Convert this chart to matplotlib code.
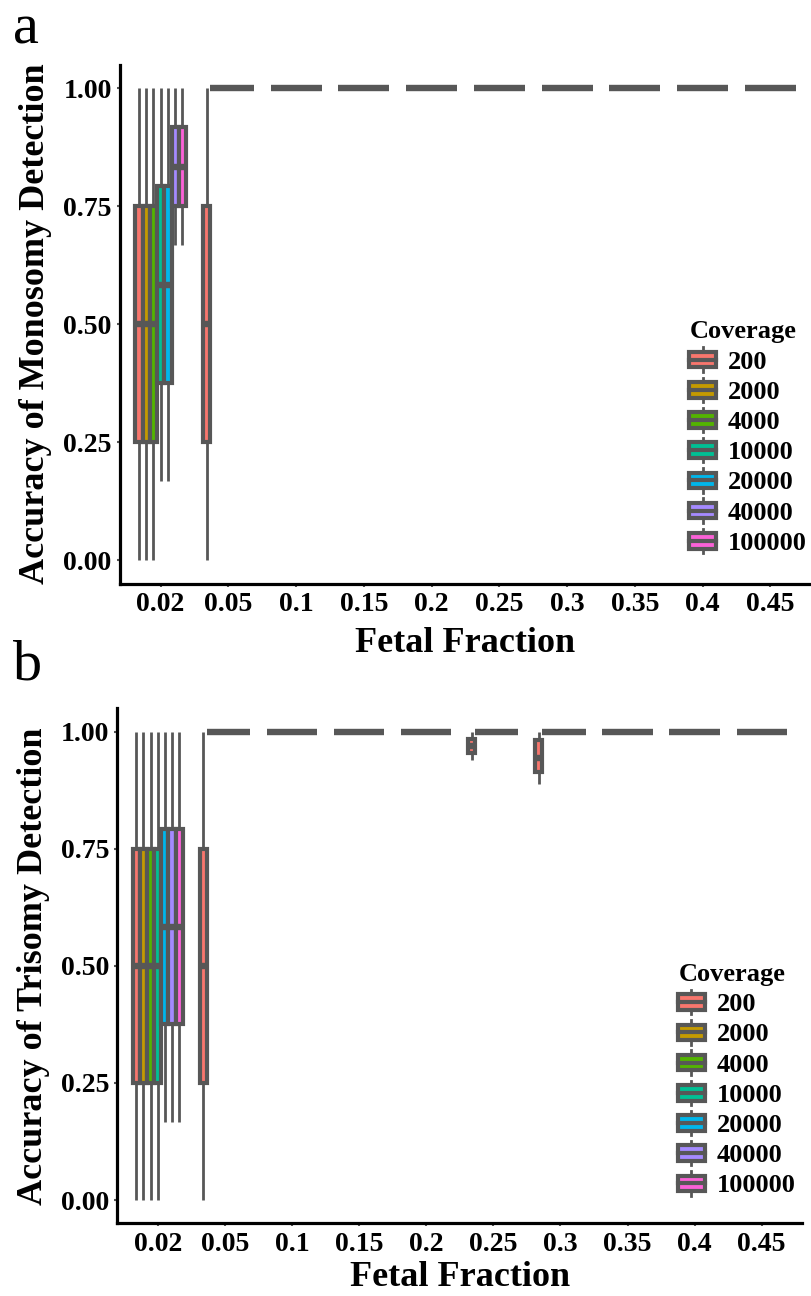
import numpy as np
import matplotlib.pyplot as plt
from matplotlib.patches import Patch, Rectangle
from matplotlib.lines import Line2D
from matplotlib.legend_handler import HandlerBase

plt.rcParams['font.family'] = ['Liberation Serif', 'DejaVu Serif']
plt.rcParams['font.weight'] = 'bold'

fractions = ['0.02', '0.05', '0.1', '0.15', '0.2', '0.25', '0.3', '0.35', '0.4', '0.45']
coverages = ['200', '2000', '4000', '10000', '20000', '40000', '100000']
colors = ['#F8766D', '#C49A00', '#53B400', '#00C094', '#00B6EB', '#A58AFF', '#FB61D7']

# boxes that are not a perfect 1.00 score:
# (fraction, coverage, whisker low, q1, median, q3, whisker high)
mono_boxes = [
    ('0.02', '200', 0.0, 0.25, 0.5, 0.75, 1.0),
    ('0.02', '2000', 0.0, 0.25, 0.5, 0.75, 1.0),
    ('0.02', '4000', 0.0, 0.25, 0.5, 0.75, 1.0),
    ('0.02', '10000', 0.167, 0.375, 0.583, 0.792, 1.0),
    ('0.02', '20000', 0.167, 0.375, 0.583, 0.792, 1.0),
    ('0.02', '40000', 0.667, 0.75, 0.833, 0.917, 1.0),
    ('0.02', '100000', 0.667, 0.75, 0.833, 0.917, 1.0),
    ('0.05', '200', 0.0, 0.25, 0.5, 0.75, 1.0),
]
tri_boxes = [
    ('0.02', '200', 0.0, 0.25, 0.5, 0.75, 1.0),
    ('0.02', '2000', 0.0, 0.25, 0.5, 0.75, 1.0),
    ('0.02', '4000', 0.0, 0.25, 0.5, 0.75, 1.0),
    ('0.02', '10000', 0.0, 0.25, 0.5, 0.75, 1.0),
    ('0.02', '20000', 0.167, 0.375, 0.583, 0.792, 1.0),
    ('0.02', '40000', 0.167, 0.375, 0.583, 0.792, 1.0),
    ('0.02', '100000', 0.167, 0.375, 0.583, 0.792, 1.0),
    ('0.05', '200', 0.0, 0.25, 0.5, 0.75, 1.0),
    ('0.25', '200', 0.94, 0.955, 0.97, 0.985, 1.0),
    ('0.3', '200', 0.889, 0.913, 0.944, 0.983, 1.0),
]

EDGE = '#575757'
BOX_LW = 3.0
MED_LW = 4.6
WHISK_LW = 2.0


class BoxKey(HandlerBase):
    # little boxplot glyph for the legend keys
    def create_artists(self, legend, orig_handle, xdescent, ydescent,
                       width, height, fontsize, trans):
        x0, y0 = -xdescent, -ydescent
        bh = height * 0.64
        by = y0 + (height - bh) / 2
        xm = x0 + width / 2
        wl = Line2D([xm, xm], [y0, by], color=EDGE, lw=WHISK_LW, transform=trans)
        wh = Line2D([xm, xm], [by + bh, y0 + height], color=EDGE, lw=WHISK_LW, transform=trans)
        rect = Rectangle((x0, by), width, bh, facecolor=orig_handle.get_facecolor(),
                         edgecolor=EDGE, lw=BOX_LW, transform=trans)
        med = Line2D([x0, x0 + width], [y0 + height / 2] * 2, color=EDGE,
                     lw=BOX_LW, transform=trans)
        return [wl, wh, rect, med]


def draw_panel(ax, boxes, ylabel, leg_anchor, xpad):
    lookup = {(b[0], b[1]): b[2:] for b in boxes}
    w = 0.75 / len(coverages)
    for gi, frac in enumerate(fractions):
        for ci, cov in enumerate(coverages):
            lo, q1, med, q3, hi = lookup.get((frac, cov), (1.0, 1.0, 1.0, 1.0, 1.0))
            st = dict(whislo=lo, q1=q1, med=med, q3=q3, whishi=hi, fliers=[])
            pos = gi + 1 + (ci - 3) * w
            ax.bxp([st], positions=[pos], widths=w, patch_artist=True,
                   showcaps=False, showfliers=False, manage_ticks=False,
                   boxprops=dict(facecolor=colors[ci], edgecolor=EDGE, linewidth=BOX_LW),
                   whiskerprops=dict(color=EDGE, linewidth=WHISK_LW, solid_capstyle='butt'),
                   medianprops=dict(color=EDGE, linewidth=MED_LW, solid_capstyle='butt'))

    ax.set_xlim(0.4, len(fractions) + 0.6)
    ax.set_ylim(-0.05, 1.05)
    ax.set_xticks(np.arange(1, len(fractions) + 1))
    ax.set_xticklabels(fractions)
    ax.set_yticks([0, 0.25, 0.5, 0.75, 1.0])
    ax.set_yticklabels(['0.00', '0.25', '0.50', '0.75', '1.00'])
    ax.tick_params(axis='both', length=2.5, width=1.5, color='#555555',
                   labelsize=20, pad=3.5)
    for s in ['top', 'right']:
        ax.spines[s].set_visible(False)
    for s in ['left', 'bottom']:
        ax.spines[s].set_linewidth(2.3)
        ax.spines[s].set_color('black')
    ax.set_xlabel('Fetal Fraction', fontsize=26, fontweight='bold', labelpad=xpad)
    ax.set_ylabel(ylabel, fontsize=26, fontweight='bold')
    ax.yaxis.set_label_coords(-0.098, 0.5)

    handles = [Patch(facecolor=c, edgecolor=EDGE) for c in colors]
    leg = ax.legend(handles, coverages, title='Coverage', loc='lower left',
                    bbox_to_anchor=leg_anchor, frameon=False, borderpad=0,
                    handler_map={Patch: BoxKey()}, handlelength=1.0, handleheight=1.05,
                    handletextpad=0.45, labelspacing=0.15,
                    prop=dict(size=19, weight='bold'),
                    title_fontproperties=dict(size=19, weight='bold'),
                    alignment='left')
    return leg


fig = plt.figure(figsize=(8.11, 12.96), dpi=100)
ax_a = fig.add_axes([0.1480, 0.5497, 0.852, 0.4004])
ax_b = fig.add_axes([0.1448, 0.0560, 0.8441, 0.3975])

draw_panel(ax_a, mono_boxes, 'Accuracy of Monosomy Detection', (0.805, 0.03), 7)
draw_panel(ax_b, tri_boxes, 'Accuracy of Trisomy Detection', (0.80, 0.025), 3)

fig.text(0.016, 1 - 43 / 1296, 'a', fontsize=42, fontweight='normal', va='baseline')
fig.text(0.016, 1 - 680 / 1296, 'b', fontsize=42, fontweight='normal', va='baseline')

fig.savefig('out.png', dpi=100)
